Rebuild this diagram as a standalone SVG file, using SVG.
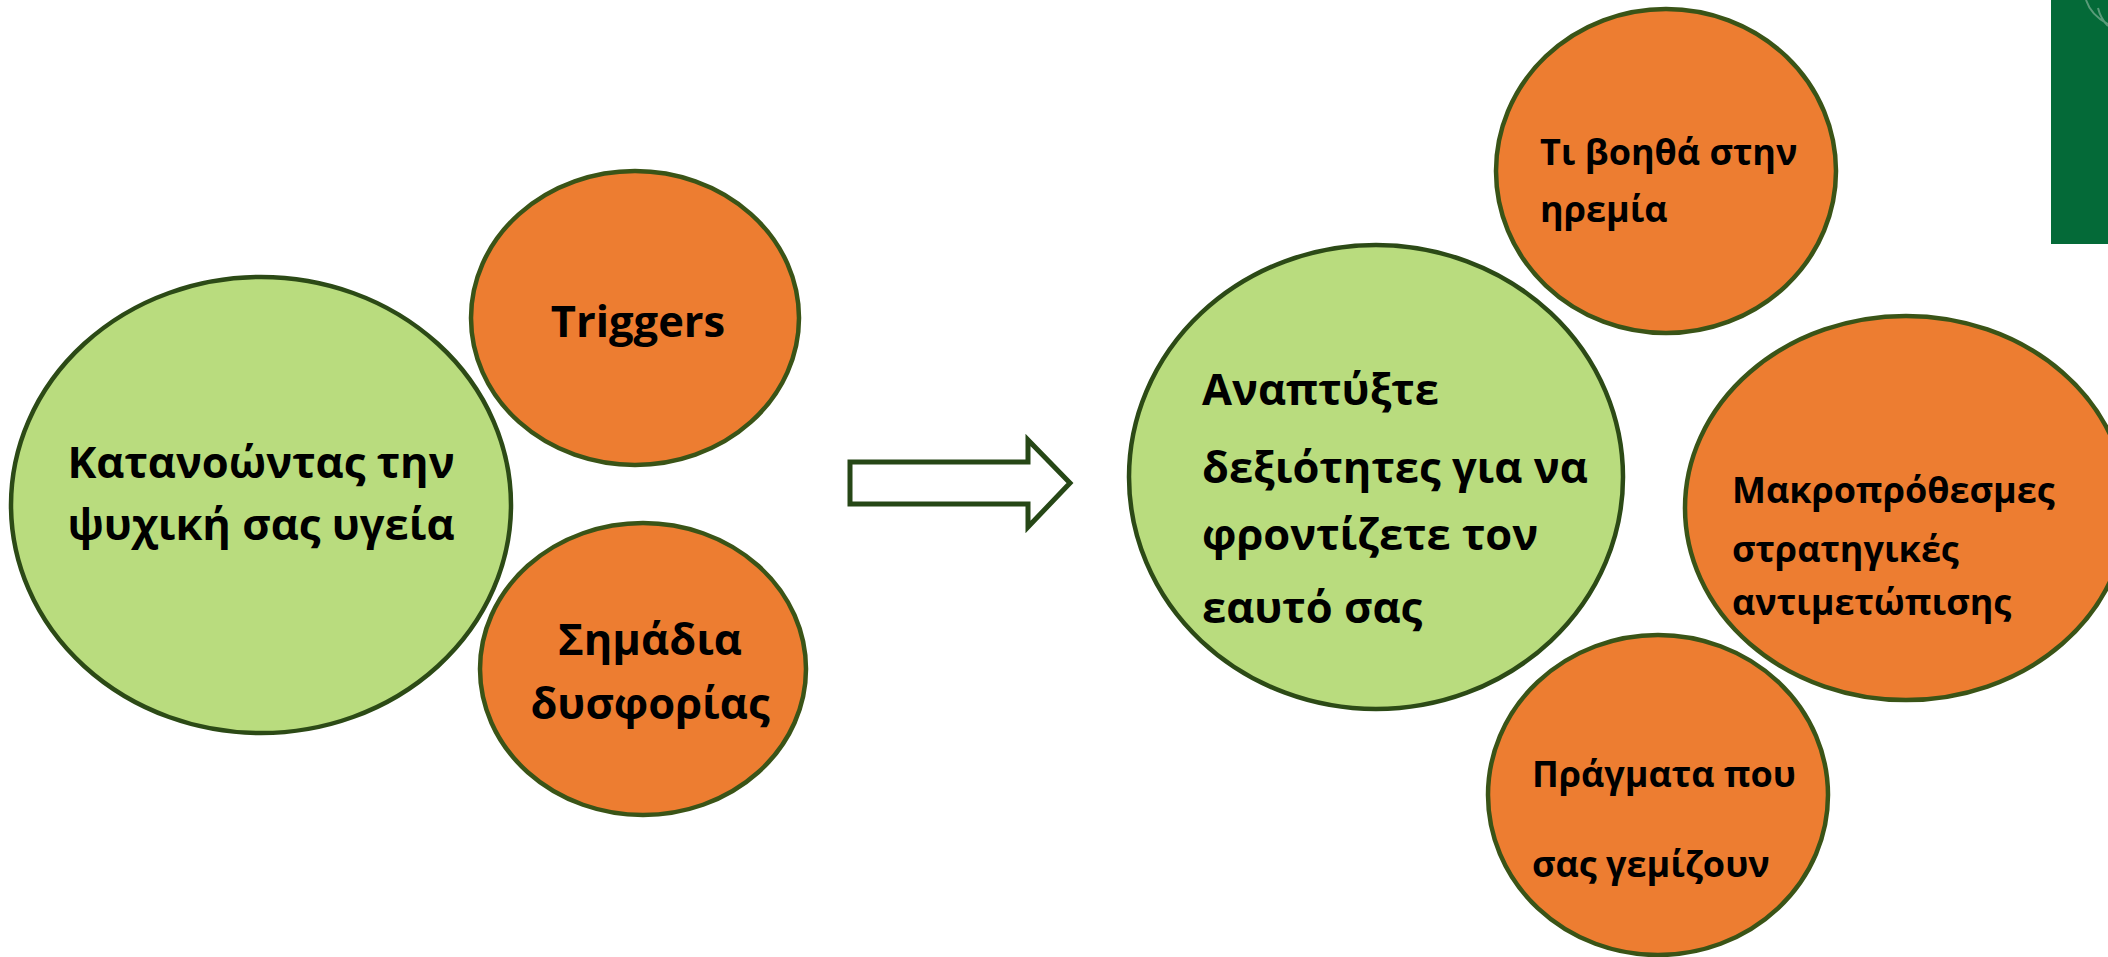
<svg xmlns="http://www.w3.org/2000/svg" width="2108" height="957" viewBox="0 0 2108 957">
<style>
.bg{fill:#ffffff}
.main{fill:#B9DC7E;stroke:#2C4A16;stroke-width:4.5}
.sub{fill:#ED7D31;stroke:#3A5417;stroke-width:4.5}
.t{font-family:"Open Sans","Noto Sans","DejaVu Sans",sans-serif;font-weight:700;fill:#000000}
.big{font-size:43.5px}
.small{font-size:36px}
.mid{text-anchor:middle}
.arrow{fill:#ffffff;stroke:#264716;stroke-width:5;stroke-linejoin:miter}
</style>
<rect class="bg" x="0" y="0" width="2108" height="957"/>
<rect x="2051" y="0" width="57" height="244" fill="#046A38"/>
<path d="M2086 0 C2090 12 2100 20 2108 24 M2098 8 C2100 16 2104 22 2108 26" fill="none" stroke="#6FA889" stroke-width="2" opacity="0.8"/>

<g id="connectors">
<path class="arrow" d="M850 462 L1028 462 L1028 440 L1070 483 L1028 527 L1028 504 L850 504 Z"/>
</g>

<g id="node-mental-health">
<ellipse class="main" cx="261" cy="505" rx="250" ry="228"/>
<text class="t big mid" x="261" y="478">Κατανοώντας την</text>
<text class="t big mid" x="261" y="540">ψυχική σας υγεία</text>
</g>

<g id="node-triggers">
<ellipse class="sub" cx="635" cy="318" rx="164" ry="147"/>
<text class="t big mid" x="638" y="337">Triggers</text>
</g>

<g id="node-signs">
<ellipse class="sub" cx="643" cy="669" rx="163" ry="146"/>
<text class="t big mid" x="650" y="655">Σημάδια</text>
<text class="t big mid" x="650" y="719">δυσφορίας</text>
</g>

<g id="node-skills">
<ellipse class="main" cx="1376" cy="477" rx="247" ry="232"/>
<text class="t big" x="1202" y="405">Αναπτύξτε</text>
<text class="t big" x="1202" y="483">δεξιότητες για να</text>
<text class="t big" x="1202" y="550">φροντίζετε τον</text>
<text class="t big" x="1202" y="623">εαυτό σας</text>
</g>

<g id="node-calm">
<ellipse class="sub" cx="1666" cy="171" rx="170" ry="162"/>
<text class="t small" x="1540" y="165">Τι βοηθά στην</text>
<text class="t small" x="1540" y="222">ηρεμία</text>
</g>

<g id="node-longterm">
<ellipse class="sub" cx="1906" cy="508" rx="221" ry="192"/>
<text class="t small" x="1732" y="503">Μακροπρόθεσμες</text>
<text class="t small" x="1732" y="562">στρατηγικές</text>
<text class="t small" x="1732" y="615">αντιμετώπισης</text>
</g>

<g id="node-fulfil">
<ellipse class="sub" cx="1658" cy="795" rx="170" ry="160"/>
<text class="t small" x="1532" y="787">Πράγματα που</text>
<text class="t small" x="1532" y="877">σας γεμίζουν</text>
</g>
</svg>
